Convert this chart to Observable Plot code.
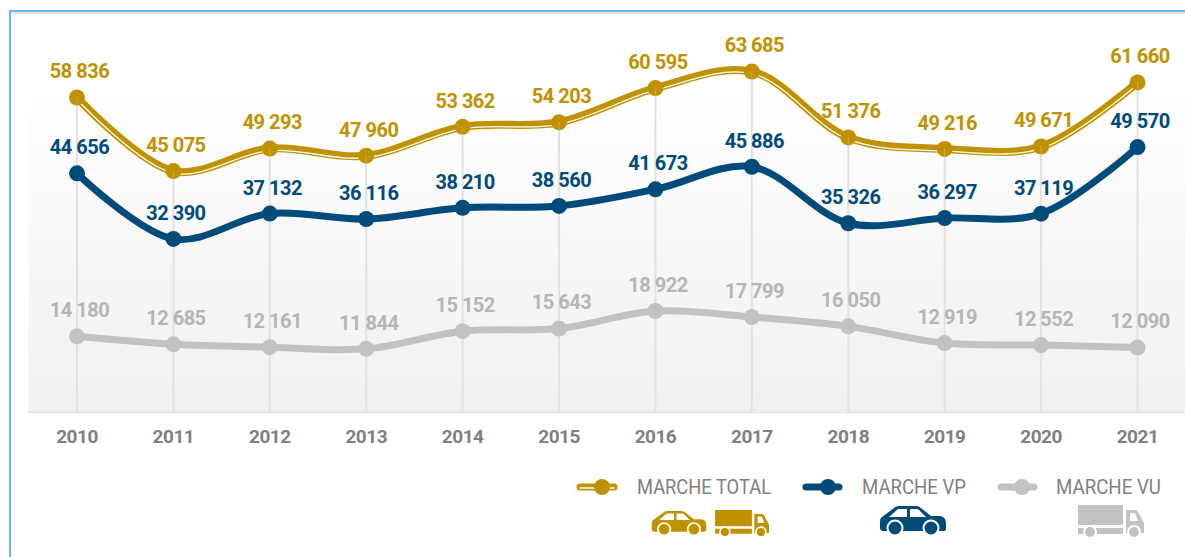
<!doctype html>
<html><head><meta charset="utf-8">
<script src="https://cdn.jsdelivr.net/npm/d3@7"></script>
<script src="https://cdn.jsdelivr.net/npm/@observablehq/plot@0.6"></script>
<style>
html,body{margin:0;padding:0;background:#fff;overflow:hidden}
#page{position:relative;width:1185px;height:557px;overflow:hidden}
#chrome{position:absolute;left:9px;top:10px;width:1176px;height:547px;border-left:2.5px solid #6db6f2;border-top:2.5px solid #6db6f2;box-sizing:border-box;box-shadow:inset 0 2px 0 #e6e6e6;pointer-events:none}
#chart svg{display:block}
#legend{display:block}
</style></head><body>
<div id="page"><div id="chrome"></div><div id="chart"></div>
<svg id="legend" width="1185" height="107" viewBox="0 450 1185 107" font-family="Roboto,sans-serif" font-size="20" fill="#7f7f7f">
  <g stroke-linecap="round">
    <line x1="580" x2="614" y1="487" y2="487" stroke="#c09200" stroke-width="7"/>
    <line x1="580" x2="614" y1="488" y2="488" stroke="#fff" stroke-width="1.4"/>
    <circle cx="602" cy="487" r="8" fill="#c09200"/>
    <line x1="806" x2="839" y1="487" y2="487" stroke="#004b7a" stroke-width="7"/>
    <circle cx="828" cy="487" r="8" fill="#004b7a"/>
    <line x1="1001" x2="1034" y1="487" y2="487" stroke="#c2c2c2" stroke-width="7"/>
    <circle cx="1022" cy="487" r="8" fill="#c2c2c2"/>
  </g>
  <text x="637" y="494" textLength="134" lengthAdjust="spacingAndGlyphs">MARCHE TOTAL</text>
  <text x="862" y="494" textLength="104" lengthAdjust="spacingAndGlyphs">MARCHE VP</text>
  <text x="1056" y="494" textLength="105" lengthAdjust="spacingAndGlyphs">MARCHE VU</text>
  <defs>
    <symbol id="car" viewBox="0 0 66 29" overflow="visible">
      <path fill="currentColor" d="M0 15Q0 12 2 11L14 2Q16 0 19 0H36Q39 0 41 2L51 10H60Q66 11 66 17V23Q66 25 63 25H3Q0 25 0 22Z"/>
      <path fill="#fff" d="M9 11L18 3H27V11ZM30 3H37Q38 3 39 4L46 11H30Z"/>
      <circle cx="15" cy="22" r="7.5" fill="currentColor" stroke="#fff" stroke-width="2"/>
      <circle cx="51" cy="22" r="7.5" fill="currentColor" stroke="#fff" stroke-width="2"/>
    </symbol>
    <symbol id="truck" viewBox="0 0 67 33" overflow="visible">
      <path fill="currentColor" d="M0 0H45V20H0ZM0 23H45V29H0ZM48 5H57Q59 5 60 7L66 18V28H48Z"/>
      <path fill="#fff" d="M52 8H57L60 16H52Z"/>
      <circle cx="12" cy="27" r="6" fill="currentColor" stroke="#fff" stroke-width="2"/>
      <circle cx="56" cy="27" r="6" fill="currentColor" stroke="#fff" stroke-width="2"/>
    </symbol>
  </defs>
  <use href="#car" x="651" y="511" width="56" height="24" style="color:#c09200"/>
  <use href="#truck" x="714" y="510" width="57" height="27" style="color:#c09200"/>
  <use href="#car" x="880" y="506" width="66" height="29" style="color:#004b7a"/>
  <use href="#truck" x="1078" y="505" width="67" height="33" style="color:#c2c2c2"/>
</svg></div>
<script>
const years = ["2010","2011","2012","2013","2014","2015","2016","2017","2018","2019","2020","2021"];
const total = [58836,45075,49293,47960,53362,54203,60595,63685,51376,49216,49671,61660];
const vp = [44656,32390,37132,36116,38210,38560,41673,45886,35326,36297,37119,49570];
const vu = [14180,12685,12161,11844,15152,15643,18922,17799,16050,12919,12552,12090];
const GOLD="#c09200", BLUE="#004b7a", GREY="#c2c2c2";
const FONT="Roboto,sans-serif";
const fmt = d3.formatLocale({decimal:",",thousands:" ",grouping:[3]}).format(",");
const rows = s => years.map((y,i)=>({year:y,value:s[i]}));
const dTotal=rows(total), dVp=rows(vp), dVu=rows(vu);
const line=(d,o)=>Plot.line(d,{x:"year",y:"value",curve:"catmull-rom",strokeLinejoin:"round",...o});
const dot=(d,fill)=>Plot.dot(d,{x:"year",y:"value",r:8,fill});
const label=(d,fill)=>Plot.text(d,{x:"year",y:"value",text:d=>fmt(d.value),dy:-25.5,dx:2.5,fill,fontSize:20,fontWeight:"bold",fontFamily:FONT});
const plot = Plot.plot({
  width:1185,height:450,marginLeft:28,marginRight:0,marginTop:85,marginBottom:39,
  style:{background:"transparent",fontFamily:FONT,letterSpacing:"-0.5px"},
  x:{type:"point",domain:years,range:[76.5,1137],padding:0,round:false,label:null},
  y:{domain:[0,70000],range:[411.7,37.3],axis:null},
  marks:[
    Plot.frame({fill:"url(#bg)",stroke:null}),
    Plot.ruleX(dTotal,{x:"year",y1:0,y2:"value",stroke:"#e2e2e2",strokeWidth:2}),
    Plot.ruleY([0],{stroke:"#e4e4e4",strokeWidth:2}),
    line(dVu,{stroke:GREY,strokeWidth:7}),
    line(dVp,{stroke:BLUE,strokeWidth:7}),
    line(dTotal,{stroke:GOLD,strokeWidth:8}),
    line(dTotal,{stroke:"#fff",strokeWidth:1.3,dy:2}),
    dot(dVu,GREY),dot(dVp,BLUE),dot(dTotal,GOLD),
    Plot.ruleX(dTotal,{x:"year",y1:d=>d.value,y2:d=>d.value*0.9,stroke:"#e2e2e2",strokeWidth:1,strokeOpacity:0.3}),
    label(dVu,"#b5b5b5"),label(dVp,BLUE),label(dTotal,GOLD),
    Plot.axisX({tickSize:0,tickPadding:18,fontSize:19,fontWeight:"bold",fill:"#808080",label:null,fontFamily:FONT})
  ]
});
const ns="http://www.w3.org/2000/svg";
const defs=document.createElementNS(ns,"defs");
defs.innerHTML='<linearGradient id="bg" x1="0" y1="0" x2="0" y2="1"><stop offset="0" stop-color="#ffffff"/><stop offset="1" stop-color="#f0f0f0"/></linearGradient>';
plot.insertBefore(defs,plot.firstChild);
document.getElementById("chart").appendChild(plot);
</script></body></html>
